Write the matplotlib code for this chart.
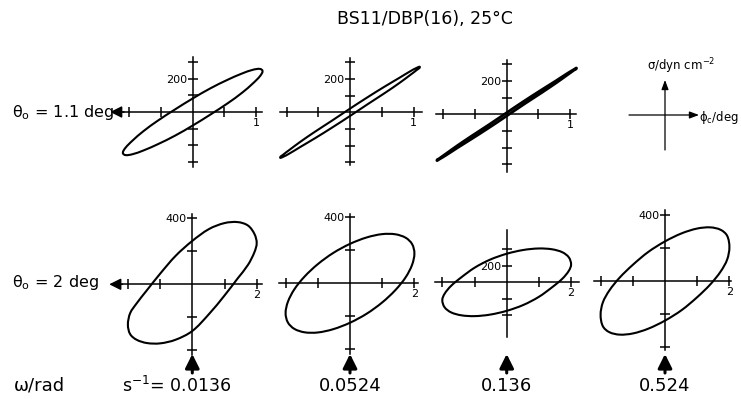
import numpy as np
import matplotlib
matplotlib.use("Agg")
import matplotlib.pyplot as plt
from matplotlib.path import Path
from matplotlib.patches import PathPatch, FancyArrowPatch
from matplotlib.ticker import FixedLocator, FixedFormatter

plt.rcParams['font.family'] = ['DejaVu Sans']
plt.rcParams['mathtext.fontset'] = 'dejavusans'

# ---------------- text content ----------------
title = "BS11/DBP(16), 25°C"
row_labels = [r"θ$_\mathregular{o}$ = 1.1 deg", r"θ$_\mathregular{o}$ = 2 deg"]
omega_label = "ω/rad"
omega_values = ["0.0136", "0.0524", "0.136", "0.524"]
stress_label = r"σ/dyn cm$^{-2}$"
strain_label = r"ϕ$_\mathregular{c}$/deg"

# ---------------- tick values / labels ----------------
top_x_ticks = [-1, -0.5, 0.5, 1]
top_x_labels = ["", "", "", "1"]
top_y_ticks = [-300, -200, -100, 100, 200, 300]
top_y_labels = ["", "", "", "", "200", ""]
bot_x_ticks = [-2, -1, 1, 2]
bot_x_labels = ["", "", "", "2"]
bot_y_ticks = [-400, -200, 200, 400]
bot_y_labels = ["", "", "", "400"]
bot3_y_ticks = [-200, -100, 100, 200]
bot3_y_labels = ["", "", "200", ""]

# ---------------- loop traces: strain (deg) and stress (dyn cm^-2) ----------------
# points read around each loop at 24 equally spaced phases of the strain cycle
top_strain = [0, 0.28, 0.55, 0.78, 0.95, 1.06, 1.10, 1.06, 0.95, 0.78, 0.55, 0.28,
              0, -0.28, -0.55, -0.78, -0.95, -1.06, -1.10, -1.06, -0.95, -0.78, -0.55, -0.28]
bot_strain = [0, 0.52, 1.00, 1.41, 1.73, 1.93, 2.00, 1.93, 1.73, 1.41, 1.00, 0.52,
              0, -0.52, -1.00, -1.41, -1.73, -1.93, -2.00, -1.93, -1.73, -1.41, -1.00, -0.52]

# theta0 = 1.1 deg
t1_stress = [81, 142, 193, 231, 253, 258, 245, 215, 172, 116, 52, -15,
             -81, -142, -193, -231, -253, -258, -245, -215, -172, -116, -52, 15]
t2_stress = [22, 91, 155, 207, 246, 268, 271, 256, 224, 176, 116, 49,
             -22, -91, -155, -207, -246, -268, -271, -256, -224, -176, -116, -49]
t3_stress = [10, 81, 147, 202, 244, 269, 276, 264, 234, 188, 129, 62,
             -10, -81, -147, -202, -244, -269, -276, -264, -234, -188, -129, -62]

# theta0 = 2 deg
b1_stress = [263, 335, 371, 377, 356, 305, 250, 195, 118, 36, -68, -180,
             -283, -336, -358, -356, -336, -302, -245, -175, -116, -36, 64, 172]
b2_stress = [239, 278, 298, 297, 276, 237, 181, 113, 37, -41, -116, -184,
             -239, -278, -298, -297, -276, -237, -181, -113, -37, 41, 116, 184]
b3_stress = [173, 196, 205, 200, 182, 151, 108, 70, 22, -30, -88, -137,
             -173, -196, -205, -200, -182, -151, -108, -70, -22, 30, 88, 137]
b4_stress = [240, 289, 318, 325, 310, 274, 205, 130, 58, -20, -98, -176,
             -240, -289, -318, -325, -310, -274, -205, -130, -58, 20, 98, 176]

# ---------------- figure ----------------
W, H = 741, 399
fig = plt.figure(figsize=(W / 100, H / 100), dpi=100)
LW_AX = 1.1
LW_LOOP = 1.5


def smooth_loop(xs, ys, sx, sy):
    """Closed Bezier path through the traced points (handles from neighbours)."""
    P = np.column_stack([np.asarray(xs, float) * sx, np.asarray(ys, float) * sy])
    n = len(P)
    T = np.roll(P, -1, axis=0) - np.roll(P, 1, axis=0)
    T = T / np.linalg.norm(T, axis=1)[:, None]
    verts = [P[0]]
    codes = [Path.MOVETO]
    for i in range(n):
        j = (i + 1) % n
        d = np.linalg.norm(P[j] - P[i]) / 3.0
        verts += [P[i] + T[i] * d, P[j] - T[j] * d, P[j]]
        codes += [Path.CURVE4] * 3
    verts = np.array(verts) / np.array([sx, sy])
    return Path(verts, codes)


def make_panel(ox, oy, sx, sy, hw, hh, xb, yb, xt, xl, yt, yl):
    ax = fig.add_axes([(ox - hw) / W, 1 - (oy + hh) / H, 2 * hw / W, 2 * hh / H])
    ax.set_xlim(-hw / sx, hw / sx)
    ax.set_ylim(-hh / sy, hh / sy)
    ax.patch.set_visible(False)
    for s in ("top", "right"):
        ax.spines[s].set_visible(False)
    ax.spines["left"].set_position(("data", 0))
    ax.spines["bottom"].set_position(("data", 0))
    ax.spines["bottom"].set_bounds(*xb)
    ax.spines["left"].set_bounds(*yb)
    for s in ("left", "bottom"):
        ax.spines[s].set_linewidth(LW_AX)
    ax.xaxis.set_major_locator(FixedLocator(xt))
    ax.xaxis.set_major_formatter(FixedFormatter(xl))
    ax.yaxis.set_major_locator(FixedLocator(yt))
    ax.yaxis.set_major_formatter(FixedFormatter(yl))
    ax.tick_params(direction="inout", length=6.5, width=LW_AX, labelsize=8, pad=1)
    return ax


def draw_loop(ax, xs, ys, sx, sy, lw=LW_LOOP):
    patch = PathPatch(smooth_loop(xs, ys, sx, sy), fill=False, ec="black",
                      lw=lw, clip_on=False, joinstyle="round")
    ax.add_patch(patch)


# top row (theta0 = 1.1 deg)
SX_T, SY_T = 63.5, 0.167
top_specs = [
    ((192.7, 112.0), (-1.10, 1.09), (-330, 330), t1_stress, LW_LOOP),
    ((350.0, 112.3), (-1.10, 1.13), (-316, 324), t2_stress, LW_LOOP),
    ((506.7, 114.3), (-1.12, 1.09), (-344, 326), t3_stress, 1.9),
]
top_axes = []
for (o, xb, yb, ys, lw) in top_specs:
    ax = make_panel(o[0], o[1], SX_T, SY_T, 80, 80, xb, yb,
                    top_x_ticks, top_x_labels, top_y_ticks, top_y_labels)
    draw_loop(ax, top_strain, ys, SX_T, SY_T, lw)
    top_axes.append(ax)

# bottom row (theta0 = 2 deg)
SX_B, SY_B = 32.2, 0.165
bot_specs = [
    ((192.3, 284.3), (-2.19, 2.17), (-428, 424), b1_stress, bot_y_ticks, bot_y_labels),
    ((350.0, 283.3), (-2.20, 2.10), (-428, 418), b2_stress, bot_y_ticks, bot_y_labels),
    ((506.7, 282.3), (-2.23, 2.26), (-329, 317), b3_stress, bot3_y_ticks, bot3_y_labels),
    ((665.0, 281.0), (-2.19, 2.06), (-418, 430), b4_stress, bot_y_ticks, bot_y_labels),
]
bot_axes = []
for (o, xb, yb, ys, yt, yl) in bot_specs:
    ax = make_panel(o[0], o[1], SX_B, SY_B, 80, 80, xb, yb,
                    bot_x_ticks, bot_x_labels, yt, yl)
    draw_loop(ax, bot_strain, ys, SX_B, SY_B)
    bot_axes.append(ax)

# row labels with arrows pointing to them
fig.text(12 / W, 1 - 112 / H, row_labels[0], fontsize=11.5, ha="left", va="center")
fig.text(12 / W, 1 - 283 / H, row_labels[1], fontsize=11.5, ha="left", va="center")
head = dict(arrowstyle="-|>,head_length=0.7,head_width=0.35", lw=LW_AX, color="black",
            shrinkA=0, shrinkB=0, mutation_scale=10)
top_axes[0].annotate("", xy=(-1.30, 0), xytext=(-1.08, 0), arrowprops=head,
                     annotation_clip=False)
bot_axes[0].annotate("", xy=(-2.58, 0), xytext=(-2.17, 0), arrowprops=head,
                     annotation_clip=False)

# legend cross (axes description)
lax = fig.add_axes([625 / W, 1 - 155 / H, 80 / W, 80 / H])
lax.set_xlim(-40, 40)
lax.set_ylim(-40, 40)
lax.axis("off")
arrow_kw = dict(arrowstyle="-|>,head_length=0.8,head_width=0.3", lw=0.9, color="black",
                shrinkA=0, shrinkB=0, mutation_scale=7)
lax.annotate("", xy=(34, 0), xytext=(-36, 0), arrowprops=arrow_kw, annotation_clip=False)
lax.annotate("", xy=(0, 35), xytext=(0, -35), arrowprops=arrow_kw, annotation_clip=False)
fig.text(647 / W, 1 - 66 / H, stress_label, fontsize=8.5, ha="left", va="center")
fig.text(699 / W, 1 - 118 / H, strain_label, fontsize=8.5, ha="left", va="center")

# title
fig.text(425 / W, 1 - 19 / H, title, fontsize=12.5, ha="center", va="center")

# frequency arrows and labels
panel_x = [192.3, 350.0, 506.7, 665.0]
for px in panel_x:
    fig.add_artist(FancyArrowPatch(
        (px / W, 1 - 373 / H), (px / W, 1 - 354 / H), transform=fig.transFigure,
        arrowstyle="-|>,head_length=0.6,head_width=0.3", mutation_scale=14,
        lw=2.2, color="black", shrinkA=0, shrinkB=0))

fig.text(14 / W, 1 - 386 / H, omega_label, fontsize=13, ha="left", va="center")
fig.text(122 / W, 1 - 386 / H, r"s$^{-1}$= " + omega_values[0], fontsize=12.5,
         ha="left", va="center")
for px, val in zip(panel_x[1:], omega_values[1:]):
    fig.text(px / W, 1 - 386 / H, val, fontsize=13, ha="center", va="center")

fig.savefig("out.png", dpi=100)
